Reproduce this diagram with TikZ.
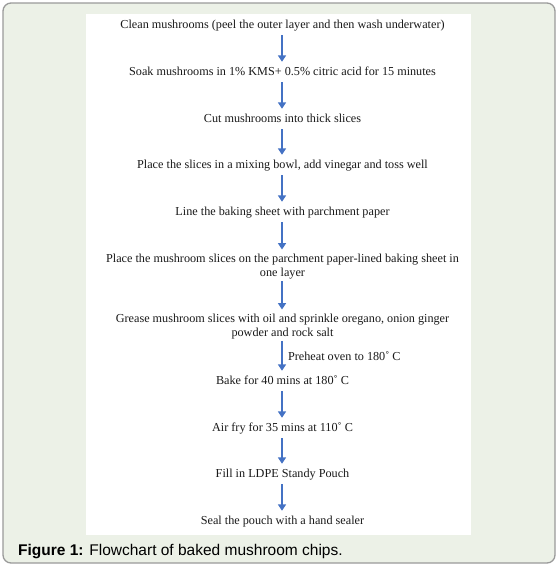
\documentclass[tikz,border=0pt]{standalone}
\usepackage{fontspec}
\setmainfont{Liberation Serif}
\newfontfamily\capfont{Liberation Sans}
\usetikzlibrary{arrows.meta}
\definecolor{bgc}{HTML}{ECF1E7}
\definecolor{framec}{HTML}{9A9A9A}
\definecolor{arrc}{HTML}{4472C4}
\definecolor{txt}{HTML}{1A1A1A}
\begin{document}
\begin{tikzpicture}[x=1pt,y=-1pt,
  stepbox/.style={inner sep=0pt, font=\fontsize{12.2}{14}\selectfont, text=txt, text height=8.5pt, text depth=3pt, anchor=base},
  twoline/.style={inner sep=0pt, font=\fontsize{12.2}{14}\selectfont, text=txt, align=center, anchor=north},
  arr/.style={draw=arrc, line width=2.2pt, -{Triangle[width=8pt,length=6.5pt]}, shorten <=4pt, shorten >=4.5pt},
  lbl/.style={inner sep=0pt, font=\fontsize{12.2}{14}\selectfont, text=txt, text height=8.5pt, text depth=3pt, anchor=west, xshift=5pt}
]
\useasboundingbox (0,0) rectangle (558,566);
\draw[fill=bgc, draw=framec, line width=1.3pt, rounded corners=8pt] (3,3) rectangle (555,563);
\fill[white] (86,14) rectangle (471,535);

\node[stepbox] (n1) at (282.5,28) {Clean mushrooms (peel the outer layer and then wash underwater)};
\node[stepbox] (n2) at (282.5,75) {Soak mushrooms in 1\% KMS+ 0.5\% citric acid for 15 minutes};
\node[stepbox] (n3) at (282.5,122) {Cut mushrooms into thick slices};
\node[stepbox] (n4) at (282.5,168) {Place the slices in a mixing bowl, add vinegar and toss well};
\node[stepbox] (n5) at (282.5,215) {Line the baking sheet with parchment paper};
\node[twoline] (n6) at (282.5,254) {Place the mushroom slices on the parchment paper-lined baking sheet in\\one layer};
\node[twoline] (n7) at (282.5,314) {Grease mushroom slices with oil and sprinkle oregano, onion ginger\\powder and rock salt};
\node[stepbox] (n8) at (282.5,384) {Bake for 40 mins at 180˚ C};
\node[stepbox] (n9) at (282.5,431) {Air fry for 35 mins at 110˚ C};
\node[stepbox] (n10) at (282.5,477) {Fill in LDPE Standy Pouch};
\node[stepbox] (n11) at (282.5,524) {Seal the pouch with a hand sealer};

\draw[arr] (n1.south -| 282,0) -- (n2.north -| 282,0);
\draw[arr] (n2.south -| 282,0) -- (n3.north -| 282,0);
\draw[arr] (n3.south -| 282,0) -- (n4.north -| 282,0);
\draw[arr] (n4.south -| 282,0) -- (n5.north -| 282,0);
\draw[arr] (n5.south -| 282,0) -- (n6.north -| 282,0);
\draw[arr, shorten <=1.5pt] (n6.south -| 282,0) -- (n7.north -| 282,0);
\draw[arr, shorten <=1.5pt] (n7.south -| 282,0) -- node[lbl] (pre) {Preheat oven to 180˚ C} (n8.north -| 282,0);
\draw[arr] (n8.south -| 282,0) -- (n9.north -| 282,0);
\draw[arr] (n9.south -| 282,0) -- (n10.north -| 282,0);
\draw[arr] (n10.south -| 282,0) -- (n11.north -| 282,0);

\node[anchor=base west, inner sep=0pt, font=\capfont\fontsize{15.5}{18}\selectfont] (cap) at (18,555) {\textbf{Figure 1:} Flowchart of baked mushroom chips.};
\end{tikzpicture}
\end{document}
